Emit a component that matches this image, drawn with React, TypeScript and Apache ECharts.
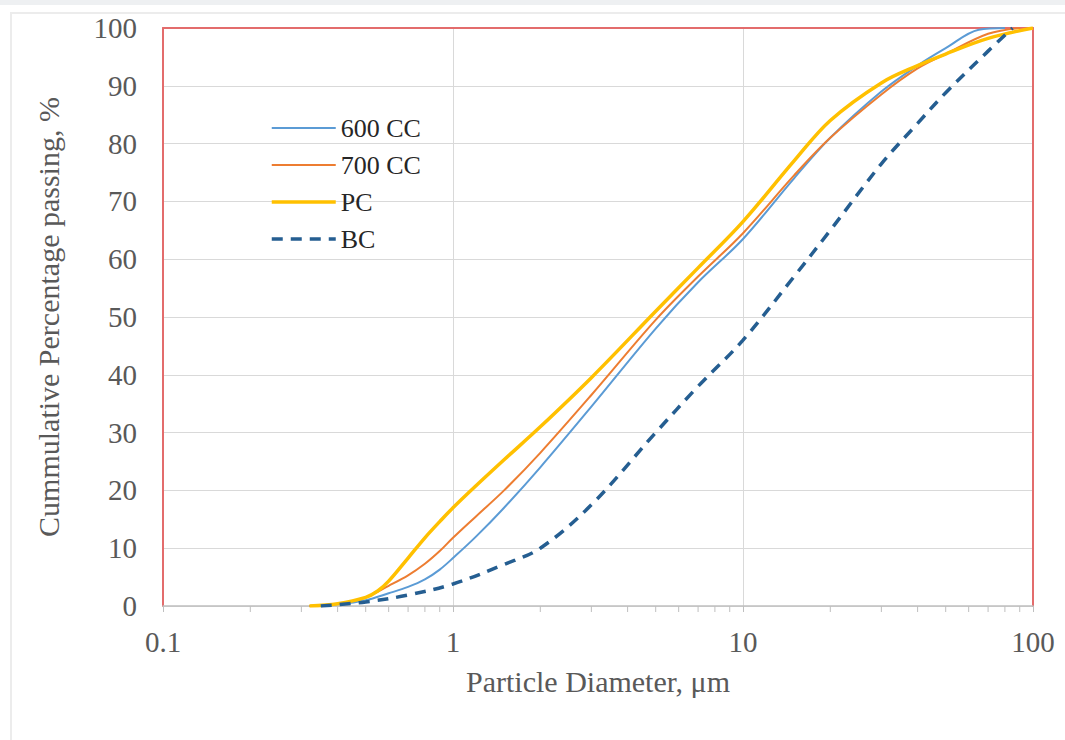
import React, { useEffect, useRef } from "react";
import * as echarts from "echarts";

const seriesNames = ["600 CC", "700 CC", "PC", "BC"];

const x600 = [0.32, 0.4, 0.5, 0.6, 0.7, 0.8, 0.9, 1, 1.2, 1.5, 2, 3, 5, 7, 10, 15, 20, 30, 40, 50, 65, 80];
const y600 = [0, 0.3, 1, 2.2, 3.3, 4.6, 6.3, 8.3, 12, 17, 24, 34.5, 48, 56, 63.5, 74, 81, 89, 93.5, 96.5, 99.7, 100];

const x700 = [0.32, 0.4, 0.5, 0.6, 0.7, 0.8, 0.9, 1, 1.2, 1.5, 2, 3, 5, 7, 10, 15, 20, 30, 40, 50, 70, 90];
const y700 = [0, 0.4, 1.5, 3.5, 5.3, 7.3, 9.5, 11.8, 15.5, 20, 26.5, 36.5, 49.5, 57, 64.5, 74.5, 81, 88.5, 93, 95.5, 99, 100];

const xPC = [0.32, 0.4, 0.5, 0.55, 0.6, 0.7, 0.8, 0.9, 1, 1.2, 1.5, 2, 3, 5, 7, 10, 15, 20, 30, 40, 50, 70, 100];
const yPC = [0, 0.4, 1.5, 2.6, 4.3, 8.3, 11.8, 14.6, 17, 20.8, 25.3, 31, 39.5, 51, 58.5, 66.5, 77, 84, 90.5, 93.5, 95.5, 98.2, 100];

const xBC = [0.35, 0.5, 0.7, 1, 1.5, 2, 3, 5, 7, 10, 15, 20, 30, 40, 50, 70, 85];
const yBC = [0, 0.7, 1.9, 3.8, 7.2, 10, 17.5, 30, 38, 46, 57, 65, 76.5, 83.5, 88.8, 96, 100];

const minorTickValues = [0.2, 0.3, 0.4, 0.5, 0.6, 0.7, 0.8, 0.9, 2, 3, 4, 5, 6, 7, 8, 9, 20, 30, 40, 50, 60, 70, 80, 90];

const xAxisTitle = "Particle Diameter, μm";
const yAxisTitle = "Cummulative Percentage passing, %";

const colors = ["#5B9BD5", "#ED7D31", "#FFC000", "#255E91"];
const widths = [2, 2, 3.5, 3.5];
const FONT = "Liberation Serif";

function pairs(xs: number[], ys: number[]) {
  return xs.map((x, i) => [x, ys[i]]);
}

export default function App() {
  const ref = useRef<HTMLDivElement>(null);
  useEffect(() => {
    if (!ref.current) return;
    const chart = echarts.init(ref.current, null, { renderer: "svg" });
    const red = "#E36C6C";
    const dash = [11, 8];
    const lineSeries = (i: number, data: number[][], dashed?: boolean) => ({
      name: seriesNames[i],
      type: "line",
      data,
      smooth: 0.35,
      symbol: "none",
      showSymbol: false,
      xAxisIndex: 0,
      yAxisIndex: 0,
      lineStyle: { color: colors[i], width: widths[i], type: dashed ? dash : "solid" },
      itemStyle: { color: colors[i] },
      z: 5,
    });
    chart.setOption({
      animation: false,
      backgroundColor: "transparent",
      textStyle: { fontFamily: FONT },
      grid: { left: 163, top: 28, width: 870, height: 578, containLabel: false },
      legend: {
        data: seriesNames.map((name, i) => ({
          name,
          lineStyle: { width: widths[i], color: colors[i], type: i === 3 ? dash : "solid" },
        })),
        orient: "vertical",
        left: 265,
        top: 110,
        itemWidth: 64,
        itemHeight: 14,
        itemGap: 11,
        itemStyle: { opacity: 0 },
        textStyle: { fontFamily: FONT, fontSize: 26, color: "#262626" },
      },
      xAxis: [
        {
          type: "log",
          logBase: 10,
          min: 0.1,
          max: 100,
          name: xAxisTitle,
          nameLocation: "middle",
          nameGap: 60,
          nameTextStyle: { fontFamily: FONT, fontSize: 30, color: "#595959" },
          axisLine: { show: true, lineStyle: { color: "#BFBFBF", width: 1.5 } },
          axisTick: { show: true, length: 6, lineStyle: { color: "#BFBFBF" } },
          axisLabel: {
            fontFamily: FONT,
            fontSize: 29,
            color: "#595959",
            margin: 21,
            formatter: (v: number) => String(v),
          },
          splitLine: { show: true, lineStyle: { color: "#D9D9D9", width: 1 } },
          minorTick: { show: false },
        },
        {
          type: "value",
          position: "top",
          min: 0,
          max: 1,
          axisLine: { show: true, onZero: false, lineStyle: { color: red, width: 2 } },
          axisTick: { show: false },
          axisLabel: { show: false },
          splitLine: { show: false },
        },
      ],
      yAxis: [
        {
          type: "value",
          min: 0,
          max: 100,
          interval: 10,
          name: yAxisTitle,
          nameLocation: "middle",
          nameGap: 100,
          nameTextStyle: { fontFamily: FONT, fontSize: 30, color: "#595959" },
          axisLine: { show: true, onZero: false, lineStyle: { color: red, width: 2 } },
          axisTick: { show: false },
          axisLabel: { fontFamily: FONT, fontSize: 29, color: "#595959", margin: 26 },
          splitLine: { show: true, lineStyle: { color: "#D9D9D9", width: 1 } },
        },
        {
          type: "value",
          position: "right",
          min: 0,
          max: 1,
          axisLine: { show: true, onZero: false, lineStyle: { color: red, width: 2 } },
          axisTick: { show: false },
          axisLabel: { show: false },
          splitLine: { show: false },
        },
      ],
      series: [
        {
          name: "minorTicks",
          type: "custom",
          xAxisIndex: 0,
          yAxisIndex: 0,
          data: minorTickValues.map((v) => [v, 0]),
          silent: true,
          clip: false,
          z: 1,
          renderItem: (params: any, api: any) => {
            const p = api.coord([api.value(0), 0]);
            return {
              type: "line",
              shape: { x1: p[0], y1: p[1], x2: p[0], y2: p[1] + 6 },
              style: { stroke: "#BFBFBF", lineWidth: 1 },
            };
          },
        },
        lineSeries(0, pairs(x600, y600)),
        lineSeries(1, pairs(x700, y700)),
        lineSeries(2, pairs(xPC, yPC)),
        lineSeries(3, pairs(xBC, yBC), true),
      ],
    });
    return () => chart.dispose();
  }, []);

  return (
    <div style={{ position: "fixed", left: 0, top: 0, width: 1065, height: 740, background: "#FFFFFF", overflow: "hidden" }}>
      <div style={{ position: "absolute", left: 0, top: 0, width: 1065, height: 5, background: "#EEF0F2" }} />
      <div
        style={{
          position: "absolute",
          left: 10,
          top: 12,
          width: 1100,
          height: 800,
          borderLeft: "2px solid #ECECEC",
          borderTop: "2px solid #ECECEC",
        }}
      />
      <div ref={ref} style={{ position: "absolute", left: 0, top: 0, width: 1065, height: 740 }} />
    </div>
  );
}
